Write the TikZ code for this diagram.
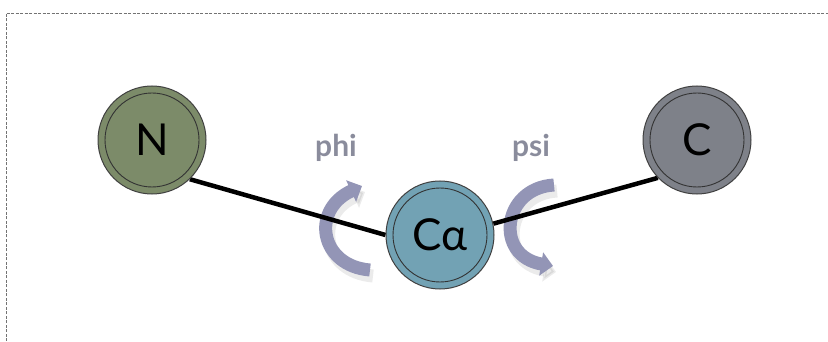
\documentclass[tikz,border=0pt]{standalone}
\usepackage{fontspec}
\setmainfont{Lato}
\usepackage{xcolor}
\usetikzlibrary{arrows.meta,positioning,backgrounds}

\definecolor{nGreen}{HTML}{7C8B69}
\definecolor{cGrey}{HTML}{7E8189}
\definecolor{caBlue}{HTML}{72A2B4}
\definecolor{twistLav}{HTML}{9395B6}
\definecolor{lblGrey}{HTML}{8A8C9C}

\begin{document}
\begin{tikzpicture}[
        x=1pt, y=-1pt,
        % atoms: filled disc with a thin inner ring
        atom/.style={circle, draw=black!75, line width=1pt, minimum size=108pt, inner sep=0pt,
            font=\fontsize{44}{48}\selectfont,
            path picture={\draw[black!80, line width=0.9pt] (path picture bounding box.center) circle (47pt);}},
        bond/.style={line width=4.5pt, draw=black},
        twist/.style={line width=13pt, draw=twistLav, -{Triangle[width=23pt,length=12pt]}},
        twistshadow/.style={line width=13pt, draw=black, opacity=0.08, -{Triangle[width=23pt,length=12pt]}, shift={(3,6)}},
        torsion/.style={font=\bfseries\fontsize{30}{32}\selectfont, text=lblGrey},
        frame/.style={draw=black!55, line width=0.8pt, dash pattern=on 3pt off 1.5pt}
    ]

    \pgfdeclarelayer{background}
    \pgfsetlayers{background,main}

    \useasboundingbox (0,0) rectangle (828,342);

    % dashed frame (open to the right and bottom)
    \draw[frame] (6,350) -- (6,13) -- (840,13);

    % --- atoms ---
    \node[atom, fill=nGreen] (N) at (152,140) {N};
    \node[atom, fill=cGrey] (C) at (697,140) {C};
    \node[atom, fill=caBlue] (Ca) at (440,235) {Cα};

    % --- torsion labels ---
    \node[torsion] (phi) at (336,148) {phi};
    \node[torsion] (psi) at (531,148) {psi};

    \begin{pgfonlayer}{background}
        % rotation arrows
        \draw[twistshadow] (370,270) .. controls (320,266) and (310,210) .. (362,186);
        \draw[twist] (370,270) .. controls (320,266) and (310,210) .. (362,186);
        \draw[twistshadow] (554,185) .. controls (502,188) and (494,256) .. (553,266);
        \draw[twist] (554,185) .. controls (502,188) and (494,256) .. (553,266);

        % bonds
        \draw[bond] (N.-46) -- (Ca.west);
        \draw[bond] (Ca.12) -- (C.224);
    \end{pgfonlayer}

\end{tikzpicture}
\end{document}
